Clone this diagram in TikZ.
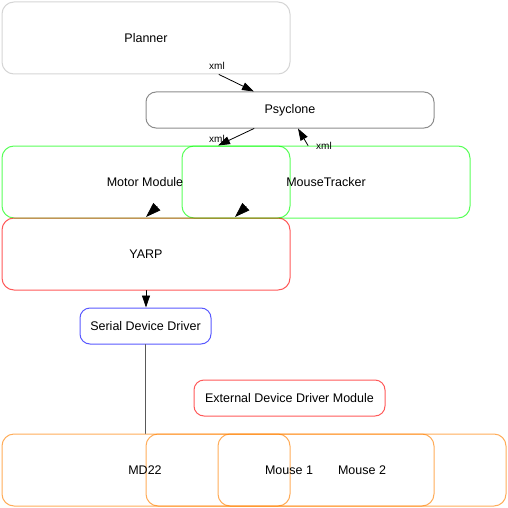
\documentclass[tikz,border=0pt]{standalone}
\usepackage{fontspec}
\setmainfont{Liberation Sans}
\usetikzlibrary{arrows.meta}

\begin{document}
\begin{tikzpicture}[x=1pt,y=-1pt,>={Triangle[length=12pt,width=8pt]},
  font=\fontsize{12.5}{14}\selectfont,line cap=round,
  box/.style={draw,rounded corners=12pt,line width=1pt,draw opacity=0.65,inner sep=0pt},
  small/.style={font=\fontsize{10}{12}\selectfont,inner sep=1pt},
  lbl/.style={inner sep=1pt},
  conn/.style={line width=0.8pt},
  bigtip/.style={-{Triangle[length=15pt,width=10pt]}}]
\useasboundingbox (0,0) rectangle (508,508);
% upper layer
\node[box,draw=lightgray,minimum width=288pt,minimum height=72pt] (planner) at (146,38) {Planner};
\node[box,draw=gray,draw opacity=0.9,rounded corners=10pt,minimum width=288pt,minimum height=36pt] (psyclone) at (290,110) {Psyclone};
\node[box,draw=green,minimum width=288pt,minimum height=72pt] (motor) at (146,182) {};
\node[box,draw=green,minimum width=288pt,minimum height=72pt] (tracker) at (326,182) {};
\node[lbl] (motorlbl) at (145,182) {Motor Module};
\node[lbl] (trackerlbl) at (326,182) {MouseTracker};
\node[box,draw=red,minimum width=288pt,minimum height=72pt] (yarp) at (146,254) {YARP};
% drivers
\node[box,draw=blue,rounded corners=10pt,minimum width=131pt,minimum height=36pt] (serial) at (145.5,326) {Serial Device Driver};
\node[box,draw=red,rounded corners=10pt,minimum width=191pt,minimum height=36pt] (external) at (289.5,398) {External Device Driver Module};
% devices
\node[box,draw=orange,minimum width=504pt,minimum height=72pt] (md22) at (254,470) {};
\node[box,draw=orange,minimum width=288pt,minimum height=72pt] (mouseone) at (290,470) {};
\node[box,draw=orange,minimum width=72pt,minimum height=72pt] (mousetwo) at (254,470) {};
\node[lbl] (md22lbl) at (145,470) {MD22};
\node[lbl] (mouseonelbl) at (289,470) {Mouse 1};
\node[lbl] (mousetwolbl) at (362,470) {Mouse 2};
% connectors
\draw[conn,->] ([xshift=73pt]planner.south) -- ([xshift=-36pt]psyclone.north);
\node[small] (xmla) at (217,66) {xml};
\draw[conn,->] ([xshift=-36pt]psyclone.south) -- ([xshift=72pt]motor.north);
\node[small] (xmlb) at (217,139) {xml};
\draw[conn,->] ([xshift=-18pt]tracker.north) -- ([xshift=8pt]psyclone.south);
\node[small] (xmlc) at (324,146) {xml};
\draw[conn,bigtip] ([shift={(11,-11)}]yarp.north) -- ([yshift=0.5pt]yarp.north);
\draw[conn,bigtip] ([shift={(100,-11)}]yarp.north) -- ([shift={(89,-0.5)}]yarp.north);
\draw[conn,->] (yarp.south) -- (yarp.south |- serial.north);
\draw[conn,gray!70!black] (serial.south) -- (serial.south |- md22.north);
\end{tikzpicture}
\end{document}
